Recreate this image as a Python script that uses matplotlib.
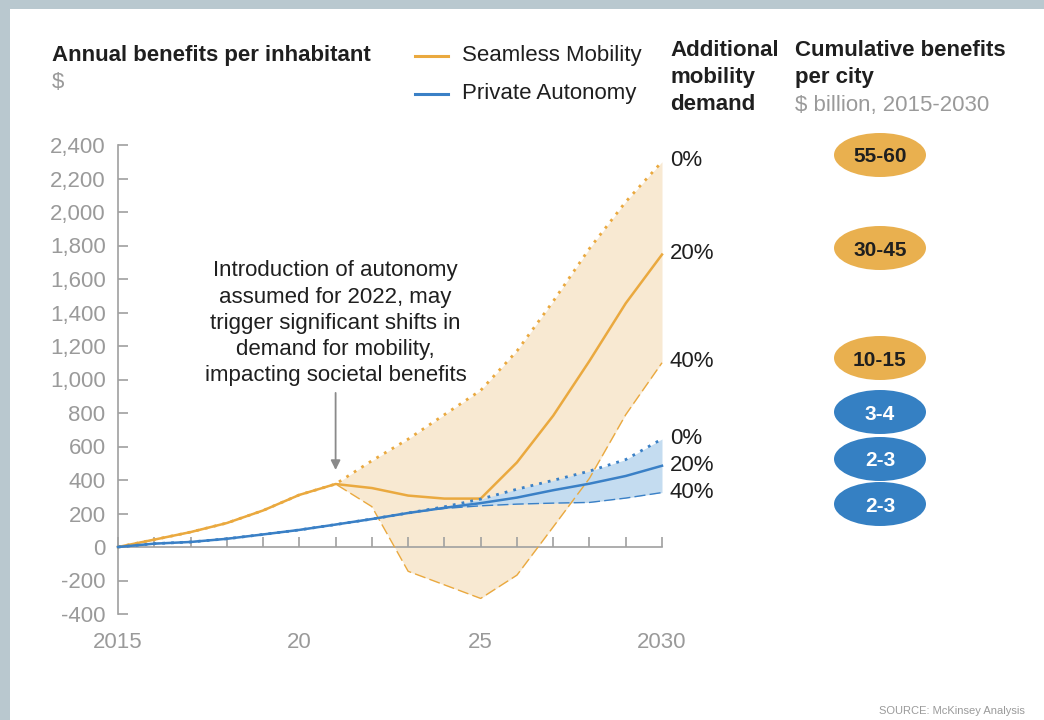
import matplotlib
matplotlib.use("Agg")
import matplotlib.pyplot as plt
from matplotlib.patches import Ellipse, Rectangle
from matplotlib.transforms import blended_transform_factory

plt.rcParams["font.family"] = ["Liberation Sans", "DejaVu Sans"]

# ---- data ---------------------------------------------------------------
years = list(range(2015, 2031))

seamless_0 = [0, 44, 89, 143, 218, 311, 376, 515, 644, 790, 935, 1170, 1467, 1782, 2061, 2300]
seamless_20 = [0, 44, 89, 143, 218, 311, 376, 352, 307, 289, 289, 505, 784, 1111, 1455, 1746]
seamless_40 = [0, 44, 89, 143, 218, 311, 376, 241, -145, -226, -307, -168, 120, 410, 790, 1100]

private_0 = [0, 20, 30, 49, 75, 102, 134, 167, 203, 240, 286, 345, 398, 453, 522, 645]
private_20 = [0, 20, 30, 49, 75, 102, 134, 167, 203, 234, 262, 295, 339, 378, 424, 485]
private_40 = [0, 20, 30, 49, 75, 102, 134, 167, 203, 230, 246, 256, 262, 266, 292, 325]

y_ticks = [-400, -200, 0, 200, 400, 600, 800, 1000, 1200, 1400, 1600, 1800, 2000, 2200, 2400]
x_label_years = [2015, 2020, 2025, 2030]
x_labels = ["2015", "20", "25", "2030"]

demand_levels = ["0%", "20%", "40%"]
seamless_cumulative = ["55-60", "30-45", "10-15"]
private_cumulative = ["3-4", "2-3", "2-3"]

# ---- style --------------------------------------------------------------
ORANGE = "#eaa93f"
ORANGE_FILL = "#f8e9d2"
ORANGE_PILL = "#e9b04f"
BLUE = "#3a80c6"
BLUE_FILL = "#c4dcf0"
BLUE_PILL = "#3580c3"
GRAY = "#9a9a9a"
AXIS_GRAY = "#a0a0a0"
DARK = "#1f1f1f"
FS = 16

W, H = 1044, 720
fig = plt.figure(figsize=(W / 100, H / 100), dpi=100)
fig.patch.set_facecolor("#b9c8cf")
fig.patches.append(Rectangle((10 / W, 0), 1, 1 - 9 / H, transform=fig.transFigure,
                             facecolor="white", edgecolor="none", zorder=-5))


def fx(px):
    return px / W


def fy(py):
    return 1 - py / H


ax = fig.add_axes([fx(118), fy(614), (662 - 118) / W, (614 - 145) / H])
ax.set_facecolor("none")
ax.set_xlim(2015, 2030)
ax.set_ylim(-400, 2400)

# bands
ax.fill_between(years, seamless_40, seamless_0, color=ORANGE_FILL, lw=0, zorder=1)
ax.fill_between(years, private_40, private_0, color=BLUE_FILL, lw=0, zorder=2)

# scenario lines
ax.plot(years, seamless_0, color=ORANGE, lw=2, ls=(0, (1, 2.2)), zorder=3, clip_on=False)
ax.plot(years, seamless_40, color=ORANGE, lw=1, ls=(0, (8, 3)), zorder=3, clip_on=False)
ax.plot(years, seamless_20, color=ORANGE, lw=1.8, zorder=4, clip_on=False)
ax.plot(years, private_0, color=BLUE, lw=2, ls=(0, (1, 2.2)), zorder=5, clip_on=False)
ax.plot(years, private_40, color=BLUE, lw=1, ls=(0, (8, 3)), zorder=5, clip_on=False)
ax.plot(years, private_20, color=BLUE, lw=1.8, zorder=6, clip_on=False)

# axes
for s in ["top", "right"]:
    ax.spines[s].set_visible(False)
ax.spines["bottom"].set_position(("data", 0))
ax.spines["bottom"].set_color(AXIS_GRAY)
ax.spines["left"].set_color(AXIS_GRAY)
ax.spines["bottom"].set_linewidth(1.2)
ax.spines["left"].set_linewidth(1.2)
ax.set_xticks(years)
ax.set_xticklabels([])
ax.tick_params(axis="x", direction="in", length=7, width=1.2, color=AXIS_GRAY)
ax.set_yticks(y_ticks)
ax.set_yticklabels([f"{v:,}" for v in y_ticks], color=GRAY, fontsize=FS)
ax.tick_params(axis="y", direction="in", length=7, width=1.2, color=AXIS_GRAY, pad=9)

xt = blended_transform_factory(ax.transData, fig.transFigure)
for yr, lab in zip(x_label_years, x_labels):
    ax.text(yr, fy(643), lab, transform=xt, ha="center", va="center",
            color=GRAY, fontsize=FS)

# annotation
ax.text(2021, 1335,
        "Introduction of autonomy\nassumed for 2022, may\ntrigger significant shifts in\n"
        "demand for mobility,\nimpacting societal benefits",
        ha="center", va="center", fontsize=FS, color=DARK, linespacing=1.33)
ax.annotate("", xy=(2021, 460), xytext=(2021, 920),
            arrowprops=dict(arrowstyle="-|>", color="#8a8a8a", lw=1.3,
                            mutation_scale=14, shrinkA=0, shrinkB=0))

# headers
fig.text(fx(52), fy(55), "Annual benefits per inhabitant", fontsize=FS,
         fontweight="bold", color=DARK, va="center")
fig.text(fx(52), fy(82), "$", fontsize=FS, color=GRAY, va="center")

fig.lines.append(plt.Line2D([fx(415), fx(448)], [fy(56), fy(56)], color=ORANGE,
                            lw=2.2, transform=fig.transFigure))
fig.lines.append(plt.Line2D([fx(415), fx(448)], [fy(94), fy(94)], color=BLUE,
                            lw=2.2, transform=fig.transFigure))
fig.text(fx(462), fy(56), "Seamless Mobility", fontsize=FS, color=DARK, va="center")
fig.text(fx(462), fy(94), "Private Autonomy", fontsize=FS, color=DARK, va="center")

for i, line in enumerate(["Additional", "mobility", "demand"]):
    fig.text(fx(670), fy(51 + 27 * i), line, fontsize=FS, fontweight="bold",
             color=DARK, va="center")
for i, line in enumerate(["Cumulative benefits", "per city"]):
    fig.text(fx(795), fy(51 + 27 * i), line, fontsize=FS, fontweight="bold",
             color=DARK, va="center")
fig.text(fx(795), fy(105), "$ billion, 2015-2030", fontsize=FS, color=GRAY, va="center")

# scenario labels at the right end of the bands
yt = blended_transform_factory(fig.transFigure, ax.transData)
for lab, val in zip(demand_levels, [seamless_0[-1], seamless_20[-1], seamless_40[-1]]):
    ax.text(fx(670), val + 20, lab, transform=yt, fontsize=FS, color=DARK,
            va="center_baseline")
for lab, val in zip(demand_levels, [private_0[-1], private_20[-1], private_40[-1]]):
    ax.text(fx(670), val + 15, lab, transform=yt, fontsize=FS, color=DARK,
            va="center_baseline")

# cumulative benefit pills
pill_rows = [(155, seamless_cumulative[0], ORANGE_PILL, DARK),
             (248, seamless_cumulative[1], ORANGE_PILL, DARK),
             (358, seamless_cumulative[2], ORANGE_PILL, DARK),
             (412, private_cumulative[0], BLUE_PILL, "white"),
             (459, private_cumulative[1], BLUE_PILL, "white"),
             (504, private_cumulative[2], BLUE_PILL, "white")]
for py, lab, fc, tc in pill_rows:
    fig.patches.append(Ellipse((fx(880), fy(py)), 92 / W, 44 / H, transform=fig.transFigure,
                               facecolor=fc, edgecolor="none", zorder=1))
    fig.text(fx(880), fy(py), lab, ha="center", va="center_baseline", fontsize=15,
             fontweight="bold", color=tc, zorder=2)

fig.text(fx(1025), fy(711), "SOURCE: McKinsey Analysis", ha="right", va="center",
         fontsize=8, color=GRAY)

fig.savefig("out.png", dpi=100, facecolor=fig.get_facecolor())
